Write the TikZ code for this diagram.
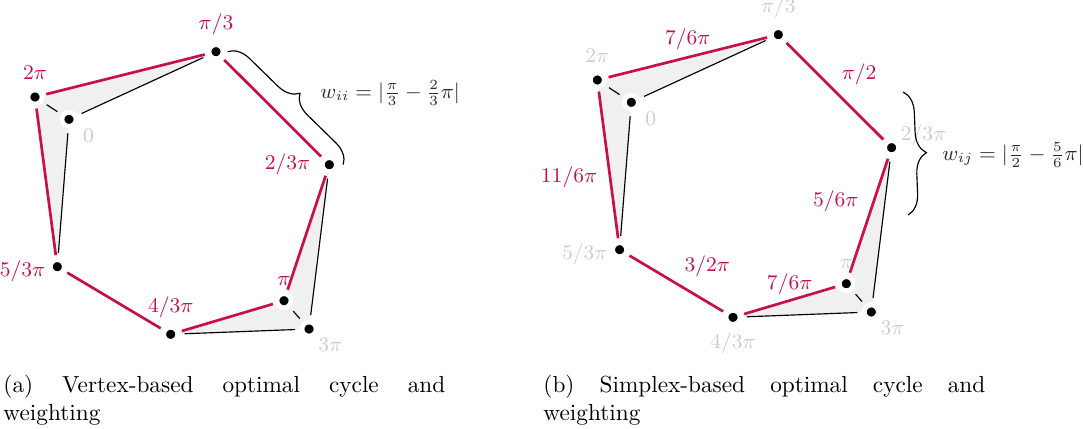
\documentclass[tikz,border=0pt]{standalone}
\usepackage{tikz}
\usetikzlibrary{positioning,backgrounds,decorations.pathreplacing}
\definecolor{cycred}{HTML}{C80F4A}
\definecolor{lblgray}{HTML}{CCCCCC}
\definecolor{simfill}{HTML}{F0F0F0}
\definecolor{txtdark}{HTML}{2B2B2B}

\begin{document}
\begin{tikzpicture}[x=0.43pt, y=-0.43pt,
  vtx/.style={circle, fill=black, draw=white, line width=2pt, minimum size=6pt, inner sep=0pt},
  cyc/.style={cycred, line width=1.15pt, shorten <=1pt, shorten >=1pt},
  simp/.style={black, line width=0.5pt, shorten <=2pt, shorten >=2pt},
  tri/.style={fill=simfill},
  redlab/.style={text=cycred, inner sep=1pt, font=\small},
  graylab/.style={text=lblgray, inner sep=1pt, font=\small},
  brc/.style={decorate, decoration={brace, amplitude=9pt}, line width=0.5pt},
  wlab/.style={text=txtdark, inner sep=0pt, anchor=west, font=\fontsize{8.6}{10}\selectfont},
  capt/.style={text width=190pt, align=justify, inner sep=0pt, anchor=north west},
  node distance=2pt
]
\useasboundingbox (0,0) rectangle (1083,428);

% (a) vertex-based
\node[vtx] (azero) at (69,119.3) {};
\node[vtx] (atwopi) at (35,97) {};
\node[vtx] (athird) at (216,51.7) {};
\node[vtx] (atwothird) at (329.3,164.7) {};
\node[vtx] (api) at (284,300.7) {};
\node[vtx] (athreepi) at (309,329) {};
\node[vtx] (afourthird) at (170.7,334.3) {};
\node[vtx] (afivethird) at (57.3,266.7) {};

\begin{scope}[on background layer]
\fill[tri] (atwopi.center) -- (azero.center) -- (athird.center) -- cycle;
\fill[tri] (atwopi.center) -- (azero.center) -- (afivethird.center) -- cycle;
\fill[tri] (atwothird.center) -- (api.center) -- (athreepi.center) -- cycle;
\fill[tri] (api.center) -- (athreepi.center) -- (afourthird.center) -- cycle;
\end{scope}

\draw[simp] (azero) -- (athird); \draw[simp] (azero) -- (atwopi);
\draw[simp] (azero) -- (afivethird); \draw[simp] (athreepi) -- (atwothird);
\draw[simp] (athreepi) -- (afourthird); \draw[simp] (athreepi) -- (api);

\draw[cyc] (atwopi) -- (athird); \draw[cyc] (athird) -- (atwothird);
\draw[cyc] (atwothird) -- (api); \draw[cyc] (api) -- (afourthird);
\draw[cyc] (afourthird) -- (afivethird); \draw[cyc] (afivethird) -- (atwopi);

\node[redlab, above=2.5pt of atwopi] (latwopi) {$2\pi$};
\node[graylab, below right=0pt and 2pt of azero] (lazero) {$0$};
\node[redlab, above=2pt of athird] (lathird) {$\pi/3$};
\node[redlab, left=3pt of atwothird] (latwothird) {$2/3\pi$};
\node[redlab, above=1.5pt of api] (lapi) {$\pi$};
\node[graylab, below right=0pt and 0pt of athreepi] (lathreepi) {$3\pi$};
\node[redlab, above=2pt of afourthird] (lafourthird) {$4/3\pi$};
\node[redlab, left=0pt of afivethird, yshift=-2pt] (lafivethird) {$5/3\pi$};

\draw[brc] ([xshift=1pt]athird.east) -- ([xshift=2pt]atwothird.east);
\node[wlab] (wii) at (320,93) {$w_{ii} = |\frac{\pi}{3} - \frac{2}{3}\pi|$};

\node[capt] (capa) at (3,375) {(a) Vertex-based optimal cycle and \mbox{weighting}};

% (b) simplex-based
\begin{scope}[shift={(562.3,-17)}]
\node[vtx] (bzero) at (69,119.3) {};
\node[vtx] (btwopi) at (35,97) {};
\node[vtx] (bthird) at (216,51.7) {};
\node[vtx] (btwothird) at (329.3,164.7) {};
\node[vtx] (bpi) at (284,300.7) {};
\node[vtx] (bthreepi) at (309,329) {};
\node[vtx] (bfourthird) at (170.7,334.3) {};
\node[vtx] (bfivethird) at (57.3,266.7) {};
\end{scope}

\begin{scope}[on background layer]
\fill[tri] (btwopi.center) -- (bzero.center) -- (bthird.center) -- cycle;
\fill[tri] (btwopi.center) -- (bzero.center) -- (bfivethird.center) -- cycle;
\fill[tri] (btwothird.center) -- (bpi.center) -- (bthreepi.center) -- cycle;
\fill[tri] (bpi.center) -- (bthreepi.center) -- (bfourthird.center) -- cycle;
\end{scope}

\draw[simp] (bzero) -- (bthird); \draw[simp] (bzero) -- (btwopi);
\draw[simp] (bzero) -- (bfivethird); \draw[simp] (bthreepi) -- (btwothird);
\draw[simp] (bthreepi) -- (bfourthird); \draw[simp] (bthreepi) -- (bpi);

\draw[cyc] (btwopi) -- node[redlab, above=1.5pt] (eone) {$7/6\pi$} (bthird);
\draw[cyc] (bthird) -- node[redlab, above right=2pt] (etwo) {$\pi/2$} (btwothird);
\draw[cyc] (btwothird) -- node[redlab, pos=0.38, left=5pt] (ethree) {$5/6\pi$} (bpi);
\draw[cyc] (bpi) -- node[redlab, above=1pt] (efour) {$7/6\pi$} (bfourthird);
\draw[cyc] (bfourthird) -- node[redlab, above right=1.5pt and 2pt] (efive) {$3/2\pi$} (bfivethird);
\draw[cyc] (bfivethird) -- node[redlab, pos=0.42, left=4pt] (esix) {$11/6\pi$} (btwopi);

\node[graylab, above=2.5pt of btwopi] (lbtwopi) {$2\pi$};
\node[graylab, below right=0pt and 2pt of bzero] (lbzero) {$0$};
\node[graylab, above=2pt of bthird] (lbthird) {$\pi/3$};
\node[graylab, above right=-3pt and 0pt of btwothird] (lbtwothird) {$2/3\pi$};
\node[graylab, above=1.5pt of bpi] (lbpi) {$\pi$};
\node[graylab, below right=0pt and 0pt of bthreepi] (lbthreepi) {$3\pi$};
\node[graylab, below=1.5pt of bfourthird] (lbfourthird) {$4/3\pi$};
\node[graylab, left=0pt of bfivethird, yshift=-2pt] (lbfivethird) {$5/3\pi$};

\coordinate (bbtop) at (903,92);
\coordinate (bbbot) at (908,215);
\draw[brc] (bbtop) -- (bbbot);
\node[wlab] (wij) at (942,155) {$w_{ij} = |\frac{\pi}{2} - \frac{5}{6}\pi|$};

\node[capt] (capb) at (543,375) {(b) Simplex-based optimal cycle and \mbox{weighting}};
\end{tikzpicture}
\end{document}
